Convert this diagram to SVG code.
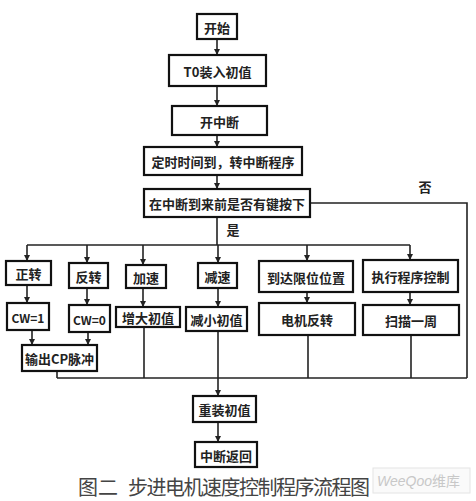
<svg xmlns="http://www.w3.org/2000/svg" width="476" height="501" viewBox="0 0 476 501">
<style>
.box{fill:#fff;stroke:#111;stroke-width:2.2}
.t{font-family:"Noto Sans CJK SC","Liberation Sans",sans-serif;font-size:13px;font-weight:bold;fill:#222;text-anchor:middle;dominant-baseline:central}
.s{font-size:12px}
.ln{fill:none;stroke:#222;stroke-width:1.6}
.lbl{font-family:"Noto Sans CJK SC",sans-serif;font-size:13px;font-weight:bold;fill:#222;text-anchor:middle;dominant-baseline:central}
.cap{font-family:"Noto Sans CJK SC",sans-serif;font-size:20px;fill:#444}
</style>
<defs>
<marker id="ah" viewBox="0 0 8 8" refX="8" refY="4" markerWidth="6" markerHeight="6" markerUnits="userSpaceOnUse" orient="auto">
<path d="M0,0 L8,4 L0,8 z" fill="#222"/>
</marker>
</defs>
<rect width="476" height="501" fill="#fff"/>
<g id="connectors">
<line class="ln" x1="217" y1="39" x2="217" y2="55" marker-end="url(#ah)"/>
<line class="ln" x1="217" y1="86" x2="217" y2="106" marker-end="url(#ah)"/>
<line class="ln" x1="217" y1="135" x2="217" y2="147" marker-end="url(#ah)"/>
<line class="ln" x1="217" y1="175" x2="217" y2="189" marker-end="url(#ah)"/>
<polyline class="ln" points="310,203 467,203 467,378"/>
<line class="ln" x1="217" y1="217" x2="217" y2="245"/>
<line class="ln" x1="27" y1="245" x2="410" y2="245"/>
<line class="ln" x1="27" y1="245" x2="27" y2="261" marker-end="url(#ah)"/>
<line class="ln" x1="87" y1="245" x2="87" y2="263" marker-end="url(#ah)"/>
<line class="ln" x1="143" y1="245" x2="143" y2="265" marker-end="url(#ah)"/>
<line class="ln" x1="218" y1="245" x2="218" y2="263" marker-end="url(#ah)"/>
<line class="ln" x1="307" y1="245" x2="307" y2="261" marker-end="url(#ah)"/>
<line class="ln" x1="410" y1="245" x2="410" y2="260" marker-end="url(#ah)"/>
<line class="ln" x1="27" y1="285" x2="27" y2="303" marker-end="url(#ah)"/>
<line class="ln" x1="87" y1="288" x2="87" y2="305" marker-end="url(#ah)"/>
<line class="ln" x1="143" y1="288" x2="143" y2="307" marker-end="url(#ah)"/>
<line class="ln" x1="218" y1="288" x2="218" y2="307" marker-end="url(#ah)"/>
<line class="ln" x1="307" y1="292" x2="307" y2="303" marker-end="url(#ah)"/>
<line class="ln" x1="410" y1="292" x2="410" y2="305" marker-end="url(#ah)"/>
<line class="ln" x1="32" y1="330" x2="32" y2="345" marker-end="url(#ah)"/>
<line class="ln" x1="88" y1="332" x2="88" y2="345" marker-end="url(#ah)"/>
<line class="ln" x1="57" y1="371" x2="57" y2="378"/>
<line class="ln" x1="144" y1="327" x2="144" y2="378"/>
<line class="ln" x1="218" y1="331" x2="218" y2="396" marker-end="url(#ah)"/>
<line class="ln" x1="308" y1="335" x2="308" y2="378"/>
<line class="ln" x1="411" y1="335" x2="411" y2="378"/>
<line class="ln" x1="57" y1="378" x2="467" y2="378"/>
<line class="ln" x1="218" y1="422" x2="218" y2="442" marker-end="url(#ah)"/>
<text class="lbl" x="425" y="186">否</text>
<text class="lbl" x="233" y="229">是</text>
</g>
<g id="n-start"><rect class="box" x="197" y="14" width="40" height="25"/><text class="t" x="217" y="27">开始</text></g>
<g id="n-t0"><rect class="box" x="169" y="55" width="97" height="31"/><text class="t" x="217.5" y="71">T0装入初值</text></g>
<g id="n-kzd"><rect class="box" x="172" y="106" width="95" height="29"/><text class="t" x="219.5" y="121">开中断</text></g>
<g id="n-dingshi"><rect class="box" x="144" y="147" width="158" height="28"/><text class="t" x="223" y="161.5">定时时间到，转中断程序</text></g>
<g id="n-decision"><rect class="box" x="144" y="189" width="166" height="28"/><text class="t" x="227" y="203.5">在中断到来前是否有键按下</text></g>
<g id="n-zz"><rect class="box" x="6" y="261" width="45" height="24"/><text class="t" x="28.5" y="273.5">正转</text></g>
<g id="n-fz"><rect class="box" x="69" y="263" width="39" height="25"/><text class="t" x="88.5" y="276">反转</text></g>
<g id="n-js"><rect class="box" x="126" y="265" width="40" height="23"/><text class="t" x="146" y="277">加速</text></g>
<g id="n-jians"><rect class="box" x="198" y="263" width="39" height="25"/><text class="t" x="217.5" y="276">减速</text></g>
<g id="n-dd"><rect class="box" x="259" y="261" width="94" height="31"/><text class="t" x="306" y="277">到达限位位置</text></g>
<g id="n-zx"><rect class="box" x="363" y="260" width="95" height="32"/><text class="t" x="410.5" y="276.5">执行程序控制</text></g>
<g id="n-cw1"><rect class="box" x="7" y="303" width="42" height="27"/><text class="t s" x="28" y="317">CW=1</text></g>
<g id="n-cw0"><rect class="box" x="69" y="305" width="41" height="27"/><text class="t s" x="89.5" y="319">CW=0</text></g>
<g id="n-zd"><rect class="box" x="116" y="307" width="64" height="20"/><text class="t" x="148" y="317.5">增大初值</text></g>
<g id="n-jx"><rect class="box" x="186" y="307" width="61" height="24"/><text class="t" x="216.5" y="319.5">减小初值</text></g>
<g id="n-djfz"><rect class="box" x="259" y="303" width="96" height="32"/><text class="t" x="307" y="319.5">电机反转</text></g>
<g id="n-sm"><rect class="box" x="363" y="305" width="96" height="30"/><text class="t" x="411" y="320.5">扫描一周</text></g>
<g id="n-sc"><rect class="box" x="22" y="345" width="75" height="26"/><text class="t" x="59.5" y="358.5">输出CP脉冲</text></g>
<g id="n-cz"><rect class="box" x="193" y="396" width="63" height="26"/><text class="t" x="224.5" y="409.5">重装初值</text></g>
<g id="n-fh"><rect class="box" x="195" y="442" width="62" height="25"/><text class="t" x="226" y="455">中断返回</text></g>
<text class="cap" x="78" y="495">图二</text>
<text class="cap" x="128" y="495" textLength="242">步进电机速度控制程序流程图</text>
<rect x="373" y="468" width="97" height="25" fill="#fafafa" stroke="#e4e4e4" stroke-width="1"/>
<text x="377" y="486" font-family="Liberation Sans,Noto Sans CJK SC,sans-serif" font-size="14" fill="#c8c8c8"><tspan font-style="italic">WeeQoo</tspan>维库</text>
</svg>
